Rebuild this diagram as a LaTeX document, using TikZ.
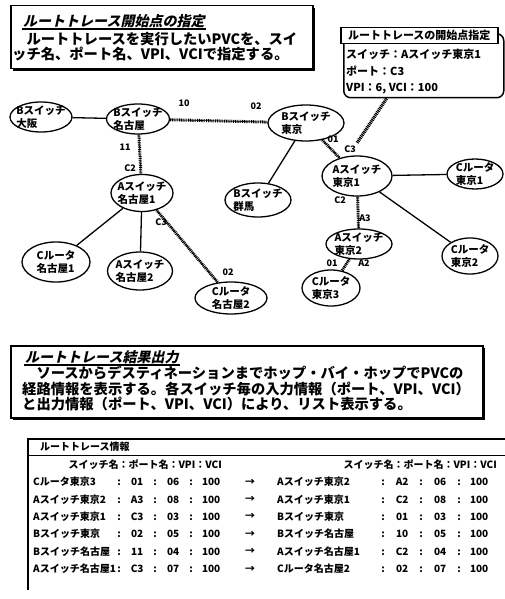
\documentclass[tikz,border=0pt]{standalone}
\usepackage{fontspec}
\newfontfamily\jp{Noto Sans CJK JP}
\newfontfamily\jpsl{Noto Sans CJK JP}[FakeSlant=0.22]
\usetikzlibrary{positioning,shapes.geometric,shadows,calc}
\tikzset{
  swnode/.style={ellipse, draw, line width=1.3pt, inner sep=-3pt, align=left,
    font=\jp\bfseries\fontsize{10.5}{13.5}\selectfont},
  portlbl/.style={font=\jp\bfseries\fontsize{9}{9}\selectfont, inner sep=0.5pt},
  plainlink/.style={line width=1.3pt},
  pvclink/.style={line width=3pt, dash pattern=on 0.9pt off 0.9pt,
    postaction={draw, solid, line width=0.6pt}},
  notebox/.style={draw, line width=1.5pt, fill=white, inner sep=0pt,
    drop shadow={shadow xshift=2pt, shadow yshift=-2pt, fill=black, opacity=1}},
  notehead/.style={font=\jpsl\bfseries\fontsize{14}{14}\selectfont, inner sep=1pt},
  notetext/.style={font=\jp\bfseries\fontsize{14.3}{15.5}\selectfont, align=left, inner sep=0pt},
  callbody/.style={draw, line width=1.5pt, rounded corners=7pt, fill=white, inner sep=0pt},
  callhead/.style={draw, line width=1.5pt, fill=white, inner sep=0pt,
    font=\jp\bfseries\fontsize{11}{12}\selectfont},
  calltext/.style={font=\jp\bfseries\fontsize{11}{16.5}\selectfont, align=left, inner sep=0pt},
  rowtext/.style={font=\jp\bfseries\fontsize{10}{12}\selectfont, inner sep=0pt},
}
% one half of a table row: name width, field width, switch, port, VPI, VCI
\newcommand{\hop}[6]{\makebox[#1][l]{#3}\makebox[12pt]{:}\makebox[#2]{#4}%
  \makebox[12pt]{:}\makebox[#2]{#5}\makebox[12pt]{:}\makebox[28pt]{#6}}

\begin{document}
\begin{tikzpicture}[x=1pt,y=-1pt]
  \useasboundingbox (0,0) rectangle (505,599);

  % start point box
  \node[notebox, minimum width=302pt, minimum height=63pt, anchor=north west] (startbox) at (10,5) {};
  \node[notehead, anchor=west] (starthead) at (22,21) {ルートトレース開始点の指定};
  \draw[line width=1.6pt] (starthead.south west) -- (starthead.south east);
  \node[notetext, anchor=north west] (starttext) at (12,32) {　ルートトレースを実行したいPVCを、スイ\\ッチ名、ポート名、VPI、VCIで指定する。};

  % callout
  \node[callbody, minimum width=160pt, minimum height=64pt, anchor=north west] (callout) at (343,33) {};
  \node[callhead, minimum width=157pt, minimum height=16pt, anchor=north west] (callhead) at (340,27) {ルートトレースの開始点指定};
  \node[calltext, anchor=north west] (calllines) at (346,49) {スイッチ：Aスイッチ東京1\\ポート：C3\\VPI：6, VCI：100};
  \coordinate (ptrend) at (357,143);
  \draw[pvclink, line width=3.5pt] ($(callout.south west)!0.27!(callout.south east)$) -- (ptrend);

  % network
  \node[swnode, minimum width=62pt, minimum height=30pt] (bosaka) at (41,117) {Bスイッチ\\大阪};
  \node[swnode, minimum width=63pt, minimum height=30pt] (bnagoya) at (138,119) {Bスイッチ\\名古屋};
  \node[swnode, minimum width=76pt, minimum height=36pt] (btokyo) at (306,123) {Bスイッチ\\東京};
  \node[swnode, minimum width=70pt, minimum height=40pt] (atokyoa) at (357,176) {Aスイッチ\\東京1};
  \node[swnode, minimum width=56pt, minimum height=30pt] (ctokyoa) at (475,174) {Cルータ\\東京1};
  \node[swnode, minimum width=66pt, minimum height=34pt] (bgunma) at (258,200) {Bスイッチ\\群馬};
  \node[swnode, minimum width=66pt, minimum height=30pt] (atokyob) at (359,244) {Aスイッチ\\東京2};
  \node[swnode, minimum width=56pt, minimum height=36pt] (ctokyob) at (470,256) {Cルータ\\東京2};
  \node[swnode, minimum width=58pt, minimum height=36pt] (ctokyoc) at (331,288) {Cルータ\\東京3};
  \node[swnode, minimum width=62pt, minimum height=37pt] (anagoyaa) at (142,193) {Aスイッチ\\名古屋1};
  \node[swnode, minimum width=68pt, minimum height=40pt] (cnagoyaa) at (56,262) {Cルータ\\名古屋1};
  \node[swnode, minimum width=65pt, minimum height=38pt] (anagoyab) at (140,271) {Aスイッチ\\名古屋2};
  \node[swnode, minimum width=72pt, minimum height=32pt] (cnagoyab) at (231,298) {Cルータ\\名古屋2};

  \draw[plainlink] (bosaka) -- (bnagoya);
  \draw[pvclink] (bnagoya) -- (btokyo);
  \draw[pvclink] (bnagoya) -- (anagoyaa);
  \draw[plainlink] (anagoyaa) -- (cnagoyaa);
  \draw[plainlink] (anagoyaa) -- (anagoyab);
  \draw[pvclink] (anagoyaa) -- (cnagoyab);
  \draw[plainlink] (btokyo) -- (bgunma);
  \draw[pvclink] (btokyo) -- (atokyoa);
  \draw[plainlink] (atokyoa) -- (ctokyoa);
  \draw[pvclink] (atokyoa) -- (atokyob);
  \draw[plainlink] (atokyoa) -- (ctokyob);
  \draw[pvclink] (atokyob) -- (ctokyoc);

  % port numbers
  \node[portlbl] (p10) at (184,103) {10};
  \node[portlbl] (p02a) at (256,106) {02};
  \node[portlbl] (p11) at (125,147) {11};
  \node[portlbl] (pc2a) at (130,168) {C2};
  \node[portlbl] (pc3a) at (161,222) {C3};
  \node[portlbl] (p02b) at (228,272) {02};
  \node[portlbl] (p01a) at (333,139) {01};
  \node[portlbl] (pc3b) at (350,149) {C3};
  \node[portlbl] (pc2b) at (340,200) {C2};
  \node[portlbl] (pa3) at (365,218) {A3};
  \node[portlbl] (p01b) at (332,263) {01};
  \node[portlbl] (pa2) at (364,263) {A2};

  % result box
  \node[notebox, minimum width=472pt, minimum height=72pt, anchor=north west] (resbox) at (10,345) {};
  \node[notehead, anchor=west] (reshead) at (24,357) {ルートトレース結果出力};
  \draw[line width=1.6pt] (reshead.south west) -- (reshead.south east);
  \node[notetext, anchor=north west] (restext) at (22,366) {　ソースからデスティネーションまでホップ・バイ・ホップでPVCの\\経路情報を表示する。各スイッチ毎の入力情報（ポート、VPI、VCI）\\と出力情報（ポート、VPI、VCI）により、リスト表示する。};

  % trace table
  \draw[line width=2pt] (505,439) -- (28,439) -- (28,590);
  \draw[line width=0.8pt] (28,455) -- (505,455);
  \node[rowtext, anchor=west] (tabhead) at (40,447) {ルートトレース情報};
  \node[rowtext, anchor=east] (colin) at (222,465) {スイッチ名：ポート名：VPI：VCI};
  \node[rowtext, anchor=east] (colout) at (497,465) {スイッチ名：ポート名：VPI：VCI};
  \foreach \sa/\pa/\va/\sb/\pb/\vb [count=\r] in {
      Cルータ東京3/01/06/Aスイッチ東京2/A2/06,
      Aスイッチ東京2/A3/08/Aスイッチ東京1/C2/08,
      Aスイッチ東京1/C3/03/Bスイッチ東京/01/03,
      Bスイッチ東京/02/05/Bスイッチ名古屋/10/05,
      Bスイッチ名古屋/11/04/Aスイッチ名古屋1/C2/04,
      Aスイッチ名古屋1/C3/07/Cルータ名古屋2/02/07} {
    \node[rowtext, anchor=west] (in\r) at (33,{464.6+17.4*\r}) {\hop{80pt}{24pt}{\sa}{\pa}{\va}{100}};
    \node[rowtext] (arr\r) at (250,{464.6+17.4*\r}) {→};
    \node[rowtext, anchor=west] (out\r) at (277,{464.6+17.4*\r}) {\hop{100pt}{26pt}{\sb}{\pb}{\vb}{100}};
  }
\end{tikzpicture}
\end{document}
